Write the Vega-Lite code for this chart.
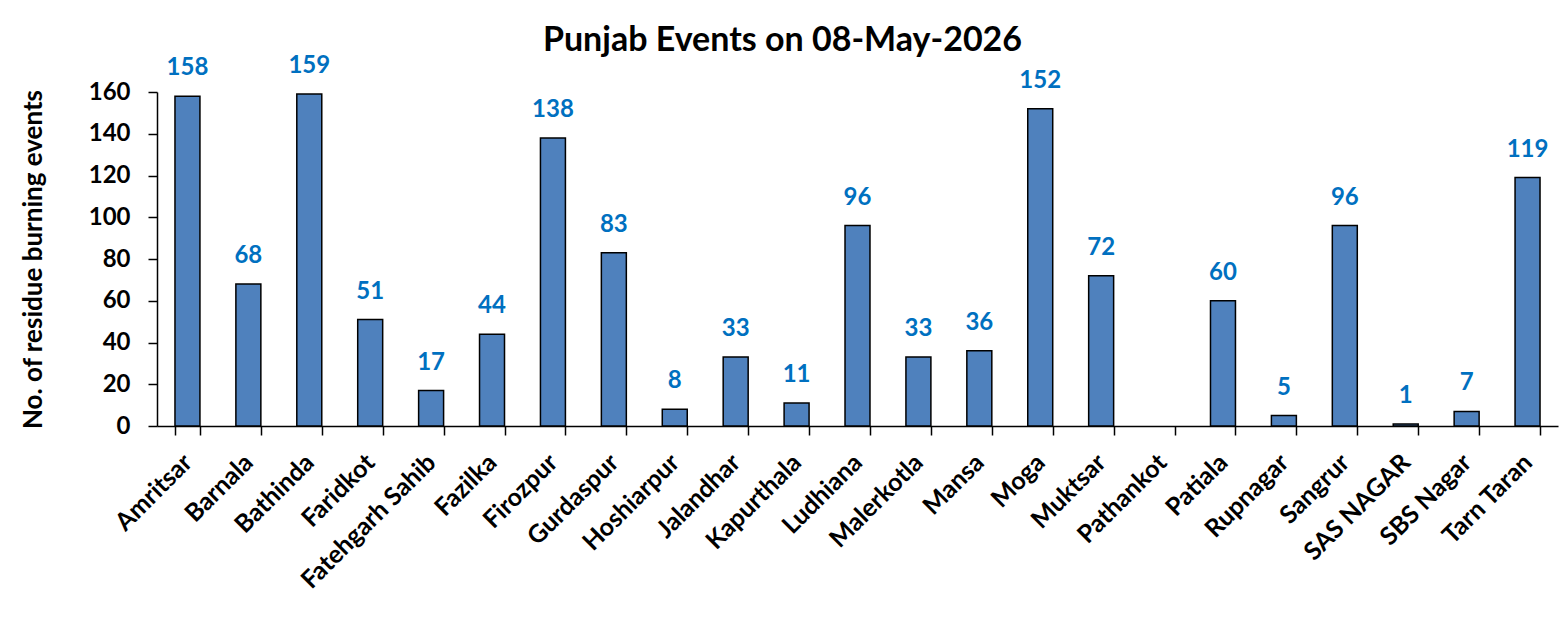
{
  "$schema": "https://vega.github.io/schema/vega-lite/v6.json",
  "width": 1401,
  "height": 334,
  "autosize": {"type": "none"},
  "padding": {"left": 157, "top": 92, "right": 10, "bottom": 196},
  "background": "white",
  "title": {
    "text": "Punjab Events on 08-May-2026",
    "font": "Lato",
    "fontSize": 34,
    "fontWeight": "bold",
    "color": "#000000",
    "anchor": "middle",
    "frame": "group",
    "dx": -75,
    "offset": -4
  },
  "data": {
    "values": [
      {"district": "Amritsar", "events": 158},
      {"district": "Barnala", "events": 68},
      {"district": "Bathinda", "events": 159},
      {"district": "Faridkot", "events": 51},
      {"district": "Fatehgarh Sahib", "events": 17},
      {"district": "Fazilka", "events": 44},
      {"district": "Firozpur", "events": 138},
      {"district": "Gurdaspur", "events": 83},
      {"district": "Hoshiarpur", "events": 8},
      {"district": "Jalandhar", "events": 33},
      {"district": "Kapurthala", "events": 11},
      {"district": "Ludhiana", "events": 96},
      {"district": "Malerkotla", "events": 33},
      {"district": "Mansa", "events": 36},
      {"district": "Moga", "events": 152},
      {"district": "Muktsar", "events": 72},
      {"district": "Pathankot", "events": 0},
      {"district": "Patiala", "events": 60},
      {"district": "Rupnagar", "events": 5},
      {"district": "Sangrur", "events": 96},
      {"district": "SAS NAGAR", "events": 1},
      {"district": "SBS Nagar", "events": 7},
      {"district": "Tarn Taran", "events": 119}
    ]
  },
  "encoding": {
    "x": {
      "field": "district",
      "type": "nominal",
      "sort": null,
      "scale": {"paddingInner": 0.59, "paddingOuter": 0.295},
      "axis": {
        "title": null,
        "labelAngle": -45,
        "labelAlign": "right",
        "labelBaseline": "middle",
        "labelFont": "Lato",
        "labelFontSize": 25,
        "labelFontWeight": "bold",
        "labelColor": "#000000",
        "labelPadding": 23,
        "tickBand": "extent",
        "tickColor": "#000000",
        "tickSize": 9,
        "tickWidth": 1.5,
        "domainColor": "#000000",
        "domainWidth": 1.5,
        "grid": false
      }
    },
    "y": {
      "field": "events",
      "type": "quantitative",
      "scale": {"domain": [0, 160], "nice": false},
      "axis": {
        "title": "No. of residue burning events",
        "titleFont": "Lato",
        "titleFontSize": 26,
        "titleFontWeight": "bold",
        "titleColor": "#000000",
        "titlePadding": 42,
        "values": [0, 20, 40, 60, 80, 100, 120, 140, 160],
        "labelFont": "Lato",
        "labelFontSize": 24,
        "labelFontWeight": "bold",
        "labelColor": "#000000",
        "labelPadding": 18,
        "tickColor": "#000000",
        "tickSize": 9,
        "tickWidth": 1.5,
        "domainColor": "#000000",
        "domainWidth": 1.5,
        "grid": false
      }
    }
  },
  "layer": [
    {
      "mark": {"type": "bar", "fill": "#4F81BD", "stroke": "#000000", "strokeWidth": 1.5},
      "encoding": {
        "strokeOpacity": {"condition": {"test": "datum.events == 0", "value": 0}, "value": 1}
      }
    },
    {
      "transform": [{"filter": "datum.events > 0"}],
      "mark": {
        "type": "text",
        "font": "Lato",
        "fontSize": 24,
        "fontWeight": "bold",
        "color": "#0070C0",
        "baseline": "middle",
        "dy": -28
      },
      "encoding": {"text": {"field": "events", "type": "quantitative"}}
    }
  ],
  "config": {"view": {"stroke": null}}
}
